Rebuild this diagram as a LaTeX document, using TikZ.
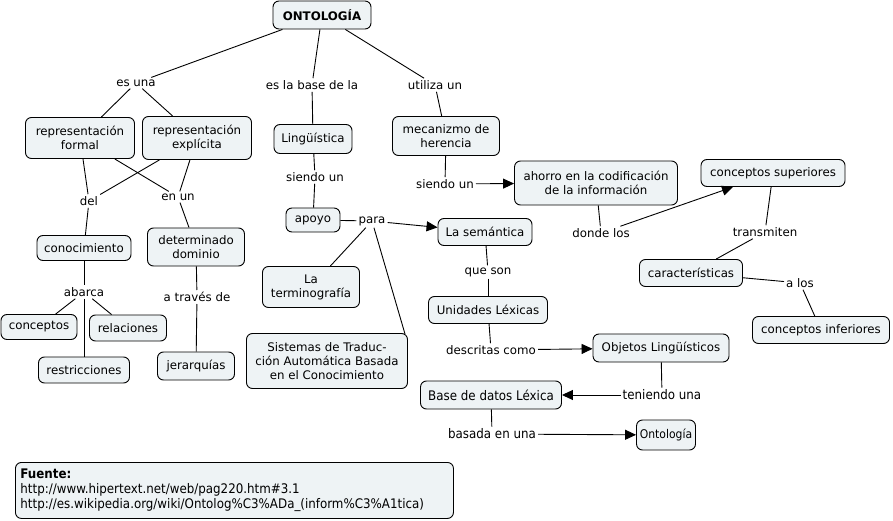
\documentclass[tikz,border=0pt]{standalone}
\usepackage{fontspec}
\setmainfont{DejaVu Sans}
\newfontfamily\condfont{DejaVu Sans Condensed}
\usetikzlibrary{arrows.meta}
\definecolor{boxfill}{HTML}{EEF3F5}
\tikzset{
  x=1pt, y=-1pt,
  cbox/.style={draw, line width=0.9pt, fill=boxfill, rounded corners=6pt, align=center,
    font=\fontsize{11.8}{14}\selectfont, inner xsep=5pt, inner ysep=3pt, minimum height=26pt},
  lbl/.style={align=center, font=\fontsize{11.8}{14}\selectfont, inner sep=2pt, fill=white},
  cbl/.style={lbl, font=\condfont\fontsize{13.2}{15}\selectfont},
  ccbox/.style={cbox, font=\condfont\fontsize{13.2}{15}\selectfont},
  lk/.style={line width=0.9pt},
  ar/.style={line width=0.9pt, -{Triangle[length=11pt,width=10pt]}},
}
\begin{document}
\begin{tikzpicture}
\useasboundingbox (0,0) rectangle (893,521);
% concepts
\node[cbox, font=\bfseries\fontsize{11.8}{14}\selectfont, minimum width=98pt, minimum height=28pt] (ont) at (322,15) {ONTOLOGÍA};
\node[cbox, minimum width=109pt, minimum height=41pt] (rf) at (80,138) {representación\\formal};
\node[cbox, minimum width=109pt, minimum height=43pt] (re) at (197,138) {representación\\explícita};
\node[cbox, minimum width=78pt, minimum height=29pt] (ling) at (313,139) {Lingüística};
\node[cbox, minimum width=107pt, minimum height=39pt] (mec) at (446,136) {mecanizmo de\\herencia};
\node[cbox, minimum width=163pt, minimum height=44pt] (aho) at (596,183) {ahorro en la codificación\\de la información};
\node[cbox, minimum width=144pt, minimum height=27pt] (csup) at (773,173) {conceptos superiores};
\node[cbox, minimum width=94pt, minimum height=25pt] (con) at (84,248) {conocimiento};
\node[cbox, minimum width=97pt, minimum height=38pt] (dom) at (196,247) {determinado\\dominio};
\node[cbox, minimum width=54pt, minimum height=24pt] (apo) at (313,220) {apoyo};
\node[cbox, minimum width=94pt, minimum height=27pt] (sem) at (485,232) {La semántica};
\node[cbox, minimum width=103pt, minimum height=27pt] (car) at (691,273) {características};
\node[cbox, minimum width=137pt, minimum height=27pt] (cinf) at (821,330) {conceptos inferiores};
\node[cbox, minimum width=97pt, minimum height=41pt] (ter) at (311,287) {La\\terminografía};
\node[cbox, minimum width=119pt, minimum height=27pt] (ul) at (488,310) {Unidades Léxicas};
\node[cbox, minimum width=76pt, minimum height=25pt] (cpt) at (39,327) {conceptos};
\node[cbox, minimum width=77pt, minimum height=26pt] (rel) at (128,328) {relaciones};
\node[cbox, minimum width=91pt, minimum height=26pt] (res) at (84,370) {restricciones};
\node[cbox, minimum width=77pt, minimum height=28pt] (jer) at (196,366) {jerarquías};
\node[cbox, minimum width=161pt, minimum height=55pt] (sis) at (327,361) {Sistemas de Traduc-\\ción Automática Basada\\en el Conocimiento};
\node[cbox, minimum width=136pt, minimum height=28pt] (obj) at (661,348) {Objetos Lingüísticos};
\node[ccbox, minimum width=141pt, minimum height=28pt] (bdl) at (491,395) {Base de datos Léxica};
\node[ccbox, minimum width=59pt, minimum height=30pt, inner xsep=2pt, font=\condfont\fontsize{12}{15}\selectfont] (ont2) at (666,435) {Ontología};
\node[ccbox, anchor=north west, minimum width=438pt, minimum height=56pt, align=left, text width=428pt, inner xsep=5pt, inner ysep=4pt] (fue) at (15,462)
  {\textbf{Fuente:}\\http://www.hipertext.net/web/pag220.htm\#3.1\\http://es.wikipedia.org/wiki/Ontolog\%C3\%ADa\_(inform\%C3\%A1tica)};
% labels
\node[lbl] (l1) at (136,83) {es una};
\node[lbl] (l2) at (312,85) {es la base de la};
\node[lbl] (l3) at (435,85) {utiliza un};
\node[lbl] (l4) at (315,177) {siendo un};
\node[lbl] (l5) at (445,184) {siendo un};
\node[lbl] (l6) at (89,201) {del};
\node[lbl] (l7) at (178,197) {en un};
\node[lbl] (l8) at (372,221) {para};
\node[lbl] (l9) at (601,233) {donde los};
\node[lbl] (l10) at (765,232) {transmiten};
\node[lbl] (l11) at (800,283) {a los};
\node[lbl] (l12) at (84,292) {abarca};
\node[lbl] (l13) at (197,297) {a través de};
\node[lbl] (l14) at (488,272) {que son};
\node[lbl] (l15) at (491,350) {descritas como};
\node[cbl] (l16) at (662,395) {teniendo una};
\node[cbl] (l17) at (492,434) {basada en una};
\coordinate (sisc) at (405,334);
% links
\draw[lk] (ont) -- (l1);
\draw[lk] (ont) -- (l2);
\draw[lk] (ont) -- (l3);
\draw[lk] (l1) -- (rf);
\draw[lk] (l1) -- (re);
\draw[lk] (l2) -- (ling);
\draw[lk] (l3) -- (mec);
\draw[lk] (rf) -- (l6);
\draw[lk] (re) -- (l6);
\draw[lk] (rf) -- (l7);
\draw[lk] (re) -- (l7);
\draw[lk] (l6) -- (con);
\draw[lk] (l7) -- (dom);
\draw[lk] (con) -- (l12);
\draw[lk] (l12) -- (cpt);
\draw[lk] (l12) -- (rel);
\draw[lk] (l12) -- (res);
\draw[lk] (dom) -- (l13);
\draw[lk] (l13) -- (jer);
\draw[lk] (ling) -- (l4);
\draw[lk] (l4) -- (apo);
\draw[lk] (apo) -- (l8);
\draw[ar] (l8) -- (sem);
\draw[lk] (l8) -- (ter);
\draw[lk] (l8) -- (sisc);
\draw[lk] (sem) -- (l14);
\draw[lk] (l14) -- (ul);
\draw[lk] (ul) -- (l15);
\draw[ar] (l15) -- (obj);
\draw[lk] (obj) -- (l16);
\draw[ar] (l16) -- (bdl);
\draw[lk] (bdl) -- (l17);
\draw[ar] (l17) -- (ont2);
\draw[lk] (mec) -- (l5);
\draw[ar] (l5) -- (aho);
\draw[lk] (aho) -- (l9);
\draw[ar] (l9) -- (csup);
\draw[lk] (csup) -- (l10);
\draw[lk] (l10) -- (car);
\draw[lk] (car) -- (l11);
\draw[lk] (l11) -- (cinf);
\end{tikzpicture}
\end{document}
